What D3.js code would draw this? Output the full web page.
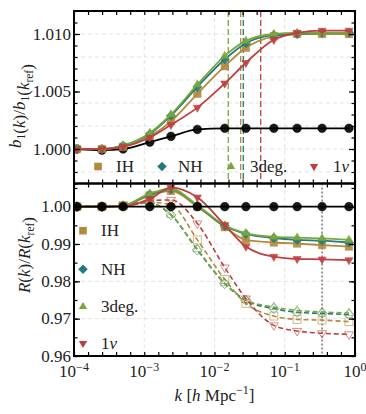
<!DOCTYPE html>
<html lang="en">
<head>
<meta charset="UTF-8">
<title>b1 and R ratios</title>
<script src="https://d3js.org/d3.v7.min.js"></script>
<style>
  body { margin: 0; background: #fff; }
  svg text { font-family: 'Liberation Serif', 'DejaVu Serif', serif; fill: #222; }
  .grid line { stroke: #dcdcdc; stroke-dasharray: 4,3; stroke-width: 0.8; }
  .frame { fill: none; stroke: #000; stroke-width: 2; }
  .tick-mark { stroke: #000; stroke-width: 1.2; }
</style>
</head>
<body>
<svg id="chart" width="366" height="414"></svg>
<script>
// ---- data ----
const kVals = [1.1e-4, 2.5e-4, 5.0e-4, 1.2e-3, 2.4e-3, 5.7e-3, 1.4e-2, 2.8e-2, 7.0e-2, 0.15, 0.34, 0.82];

const seriesNames = ["IH", "NH", "3deg.", "1ν"];

// top panel: b1(k)/b1(k_ref)
const b1Black = [1.0000, 0.9999, 1.0000, 1.0006, 1.0011, 1.0017, 1.0018, 1.0018, 1.0018, 1.0018, 1.0018, 1.0018];
const b1IH    = [1.0000, 1.0000, 1.0002, 1.0011, 1.0024, 1.0048, 1.0072, 1.0088, 1.0098, 1.0100, 1.0100, 1.0100];
const b1NH    = [1.0000, 1.0000, 1.0003, 1.0013, 1.0029, 1.0054, 1.0078, 1.0092, 1.0099, 1.0100, 1.0101, 1.0101];
const b13deg  = [1.0000, 1.0000, 1.0003, 1.0014, 1.0030, 1.0056, 1.0081, 1.0094, 1.0100, 1.0101, 1.0101, 1.0101];
const b11nu   = [1.0000, 1.0000, 1.0002, 1.0010, 1.0021, 1.0036, 1.0057, 1.0075, 1.0095, 1.0101, 1.0103, 1.0103];

// vertical dashed markers in top panel (IH, NH, 3deg., 1nu)
const kMarks = [0.0236, 0.0257, 0.0157, 0.0455];

// bottom panel: R(k)/R(k_ref), solid (filled markers)
const rBlack = [1, 1, 1, 1, 1, 1, 1, 1, 1, 1, 1, 1];
const rIH    = [1.0000, 1.0000, 1.0002, 1.0030, 1.0042, 1.0000, 0.9945, 0.9911, 0.9904, 0.9901, 0.9897, 0.9893];
const rNH    = [1.0000, 1.0000, 1.0003, 1.0033, 1.0046, 1.0003, 0.9948, 0.9927, 0.9916, 0.9911, 0.9909, 0.9904];
const r3deg  = [1.0000, 1.0000, 1.0003, 1.0035, 1.0048, 1.0004, 0.9950, 0.9929, 0.9919, 0.9917, 0.9915, 0.9911];
const r1nu   = [1.0000, 1.0000, 1.0001, 1.0020, 1.0051, 1.0025, 0.9951, 0.9893, 0.9866, 0.9860, 0.9859, 0.9857];

// bottom panel, dashed (open markers)
const rIHd   = [1.0000, 1.0000, 1.0003, 1.0012, 1.0005, 0.9911, 0.9805, 0.9741, 0.9707, 0.9698, 0.9696, 0.9692];
const rNHd   = [1.0000, 1.0000, 1.0002, 1.0010, 0.9978, 0.9884, 0.9794, 0.9749, 0.9727, 0.9717, 0.9714, 0.9711];
const r3degd = [1.0000, 1.0000, 1.0002, 1.0010, 0.9978, 0.9886, 0.9795, 0.9750, 0.9731, 0.9722, 0.9718, 0.9715];
const r1nud  = [1.0000, 1.0000, 1.0004, 1.0016, 1.0018, 0.9955, 0.9837, 0.9754, 0.9682, 0.9667, 0.9661, 0.9658];

const kRefLine = 0.34;

const xTickExps = [-4, -3, -2, -1, 0];

// ---- setup ----
const colors = ["#b38a3c", "#237a7e", "#78a83c", "#bf3f3f"];
// marker shapes, r = half width in px
const shapes = [
  r => `M${-r},${-r}H${r}V${r}H${-r}Z`,
  r => `M0,${-r * 1.25}L${r * 1.25},0L0,${r * 1.25}L${-r * 1.25},0Z`,
  r => { const h = r * 1.9; return `M0,${-h * 2 / 3}L${r * 1.1},${h / 3}L${-r * 1.1},${h / 3}Z`; },
  r => { const h = r * 1.9; return `M0,${h * 2 / 3}L${r * 1.1},${-h / 3}L${-r * 1.1},${-h / 3}Z`; }
];
const circle = r => `M${r},0A${r},${r} 0 1 1 ${-r},0A${r},${r} 0 1 1 ${r},0Z`;

const svg = d3.select("#chart");
const left = 74, right = 355;
const topP = { y0: 11, y1: 183.5 };
const botP = { y0: 183.5, y1: 356 };

const x = d3.scaleLog().domain([1e-4, 1]).range([left, right]);
const yTop = d3.scaleLinear().domain([0.997, 1.012]).range([topP.y1, topP.y0]);
const yBot = d3.scaleLinear().domain([0.96, 1.0062]).range([botP.y1, botP.y0]);

const defs = svg.append("defs");
[["clipTop", topP], ["clipBot", botP]].forEach(([id, p]) => {
  defs.append("clipPath").attr("id", id).append("rect")
    .attr("x", left).attr("y", p.y0).attr("width", right - left).attr("height", p.y1 - p.y0);
});

function panelGrid(y, p, yGrid) {
  const g = svg.append("g").attr("class", "grid");
  g.selectAll(".h").data(yGrid).enter().append("line")
    .attr("x1", left).attr("x2", right).attr("y1", d => y(d)).attr("y2", d => y(d));
  g.selectAll(".v").data([1e-3, 1e-2, 1e-1]).enter().append("line")
    .attr("x1", d => x(d)).attr("x2", d => x(d)).attr("y1", p.y0).attr("y2", p.y1);
}

function panelAxes(y, p, minorY, majorY, labelFmt) {
  const xMinor = d3.range(-4, 0.001, 0.2).map(e => Math.pow(10, e));
  svg.append("g").attr("transform", `translate(0,${p.y1})`)
    .call(d3.axisBottom(x).tickValues(xMinor).tickSize(-4).tickFormat(""))
    .call(g => { g.select(".domain").remove(); g.selectAll("line").attr("class", "tick-mark"); });
  svg.append("g").attr("transform", `translate(0,${p.y0})`)
    .call(d3.axisTop(x).tickValues(xMinor).tickSize(-4).tickFormat(""))
    .call(g => { g.select(".domain").remove(); g.selectAll("line").attr("class", "tick-mark"); });
  [[d3.axisLeft, left], [d3.axisRight, right]].forEach(([ax, pos]) => {
    svg.append("g").attr("transform", `translate(${pos},0)`)
      .call(ax(y).tickValues(minorY).tickSize(-3.5).tickFormat(""))
      .call(g => { g.select(".domain").remove(); g.selectAll("line").attr("class", "tick-mark"); });
    svg.append("g").attr("transform", `translate(${pos},0)`)
      .call(ax(y).tickValues(majorY).tickSize(-6).tickFormat(""))
      .call(g => { g.select(".domain").remove(); g.selectAll("line").attr("class", "tick-mark"); });
  });
  svg.append("g").selectAll("text").data(majorY).enter().append("text")
    .attr("x", left - 3).attr("y", d => y(d)).attr("dy", "0.33em")
    .attr("text-anchor", "end").style("font-size", "17px")
    .text(labelFmt);
  svg.append("rect").attr("class", "frame")
    .attr("x", left).attr("y", p.y0).attr("width", right - left).attr("height", p.y1 - p.y0);
}

const lineGen = (y, vals) => d3.line().x((d, i) => x(kVals[i])).y(d => y(d)).curve(d3.curveMonotoneX)(vals);

function drawSeries(g, y, vals, color, shape, r, opts) {
  g.append("path").attr("d", lineGen(y, vals))
    .attr("fill", "none").attr("stroke", color).attr("stroke-width", opts.dashed ? 1.6 : 1.8)
    .attr("stroke-dasharray", opts.dashed ? "5,3" : null);
  g.selectAll(null).data(vals).enter().append("path")
    .attr("d", shape(r))
    .attr("transform", (d, i) => `translate(${x(kVals[i])},${y(d)})`)
    .attr("fill", opts.open ? "none" : color)
    .attr("fill-opacity", opts.open ? null : 0.9)
    .attr("stroke", color).attr("stroke-width", opts.open ? 1 : 0.6)
    .attr("stroke-opacity", opts.open ? 0.6 : 0.9);
}

// ---- top panel ----
panelGrid(yTop, topP, d3.range(0.998, 1.0125, 0.002));
const gTop = svg.append("g").attr("clip-path", "url(#clipTop)");
kMarks.forEach((k, i) => {
  gTop.append("line").attr("x1", x(k)).attr("x2", x(k)).attr("y1", topP.y0).attr("y2", topP.y1)
    .attr("stroke", colors[i]).attr("stroke-width", 1.3).attr("stroke-dasharray", "6,3");
});
drawSeries(gTop, yTop, b1Black, "#000", circle, 4.3, {});
[b1IH, b1NH, b13deg, b11nu].forEach((v, i) => drawSeries(gTop, yTop, v, colors[i], shapes[i], 3.7, {}));
panelAxes(yTop, topP, d3.range(0.997, 1.0121, 0.001), [1.000, 1.005, 1.010], d => d.toFixed(3));

function legendText(t, i) {
  if (i === 3) {
    t.append("tspan").text("1");
    t.append("tspan").style("font-style", "italic").text("ν");
  } else t.text(seriesNames[i]);
}

// top legend (one row)
const legTop = [{ mx: 98, tx: 116 }, { mx: 162, tx: 178 }, { mx: 231, tx: 250 }, { mx: 314, tx: 333 }];
legTop.forEach((p, i) => {
  svg.append("path").attr("d", shapes[i](3.8))
    .attr("transform", `translate(${p.mx},166.5)`).attr("fill", colors[i]);
  legendText(svg.append("text").attr("x", p.tx).attr("y", 172).style("font-size", "17px"), i);
});

// ---- bottom panel ----
panelGrid(yBot, botP, [0.97, 0.98, 0.99, 1.00]);
const gBot = svg.append("g").attr("clip-path", "url(#clipBot)");
gBot.append("line").attr("x1", x(kRefLine)).attr("x2", x(kRefLine)).attr("y1", botP.y0).attr("y2", botP.y1)
  .attr("stroke", "#777").attr("stroke-width", 1.5).attr("stroke-dasharray", "2,2");
[rIHd, rNHd, r3degd, r1nud].forEach((v, i) => drawSeries(gBot, yBot, v, colors[i], shapes[i], 4, { dashed: true, open: true }));
[rIH, rNH, r3deg, r1nu].forEach((v, i) => drawSeries(gBot, yBot, v, colors[i], shapes[i], 3.7, {}));
drawSeries(gBot, yBot, rBlack, "#000", circle, 4.3, {});
panelAxes(yBot, botP, d3.range(0.96, 1.0061, 0.005), [0.96, 0.97, 0.98, 0.99, 1.00], d => d.toFixed(2));

// bottom legend (column)
[230.7, 269.3, 306.7, 343.3].forEach((yy, i) => {
  svg.append("path").attr("d", shapes[i](3.8))
    .attr("transform", `translate(83,${yy})`).attr("fill", colors[i]);
  legendText(svg.append("text").attr("x", 101).attr("y", yy + 5.5).style("font-size", "17px"), i);
});

// x tick labels
xTickExps.forEach(e => {
  const t = svg.append("text").attr("x", x(Math.pow(10, e))).attr("y", 377)
    .attr("text-anchor", "middle").style("font-size", "17px");
  t.append("tspan").text("10");
  t.append("tspan").attr("dy", -6).style("font-size", "12px").text(e === 0 ? "0" : "−" + Math.abs(e));
});

// axis labels
const xl = svg.append("text").attr("x", (left + right) / 2).attr("y", 401)
  .attr("text-anchor", "middle").style("font-size", "17px");
xl.append("tspan").style("font-style", "italic").text("k");
xl.append("tspan").text(" [");
xl.append("tspan").style("font-style", "italic").text("h");
xl.append("tspan").text(" Mpc");
xl.append("tspan").attr("dy", -7).style("font-size", "12px").text("−1");
xl.append("tspan").attr("dy", 7).text("]");

function ratioLabel(t, sym, sub) {
  const it = s => t.append("tspan").style("font-style", "italic").text(s);
  const sb = s => { t.append("tspan").attr("dy", 4).style("font-size", "11.5px").text(s); t.append("tspan").attr("dy", -4).text(""); };
  it(sym); if (sub) sb(sub);
  t.append("tspan").text("(");
  it("k");
  t.append("tspan").text(")/");
  it(sym); if (sub) sb(sub);
  t.append("tspan").text("(");
  it("k");
  sb("ref");
  t.append("tspan").text(")");
}
ratioLabel(svg.append("text").attr("transform", "translate(21,106) rotate(-90)")
  .attr("text-anchor", "middle").style("font-size", "17px"), "b", "1");
ratioLabel(svg.append("text").attr("transform", "translate(30,255) rotate(-90)")
  .attr("text-anchor", "middle").style("font-size", "17px"), "R", null);
</script>
</body>
</html>
